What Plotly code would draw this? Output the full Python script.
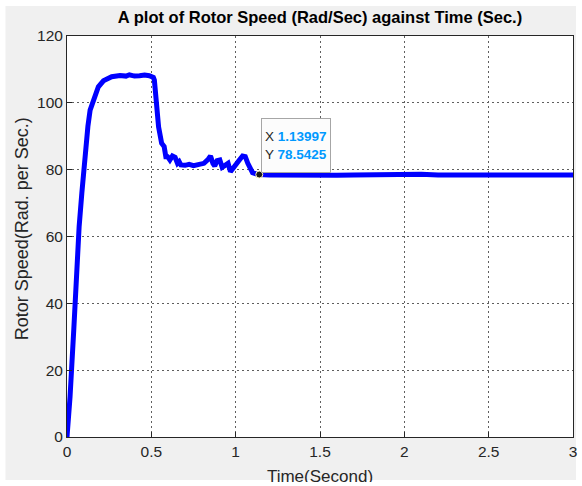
import plotly.graph_objects as go

# Rotor speed response (rad/s) over time (s)
time_s = [0.0, 0.018, 0.04, 0.057, 0.072, 0.088, 0.100, 0.112, 0.124, 0.137,
          0.151, 0.167, 0.186, 0.216, 0.265, 0.314, 0.35, 0.37, 0.40, 0.43,
          0.46, 0.488, 0.505, 0.512, 0.518, 0.528, 0.543, 0.561, 0.576, 0.586,
          0.596, 0.610, 0.625, 0.641, 0.655, 0.665, 0.675, 0.700, 0.724, 0.750,
          0.782, 0.812, 0.837, 0.851, 0.865, 0.876, 0.890, 0.906, 0.920, 0.935,
          0.955, 0.969, 0.988, 1.002, 1.022, 1.041, 1.057, 1.072, 1.086, 1.100,
          1.125, 1.13997, 1.2, 1.3, 1.4, 1.5, 1.6, 1.7, 1.8, 1.9,
          2.0, 2.1, 2.2, 2.3, 2.4, 2.5, 2.6, 2.7, 2.8, 2.9, 3.0]
speed = [0.0, 12.0, 32.0, 53.0, 63.0, 73.0, 80.0, 88.0, 93.0, 97.8,
         100.0, 102.8, 104.8, 106.6, 107.8, 108.2, 108.0, 108.4, 108.0, 108.1,
         108.3, 108.1, 108.0, 107.6, 106.8, 99.8, 92.8, 87.9, 86.9, 83.9,
         83.9, 82.9, 84.1, 83.7, 81.9, 82.4, 81.4, 81.3, 81.6, 81.2,
         81.4, 81.9, 83.1, 84.1, 81.9, 81.1, 82.7, 82.9, 80.7, 81.4,
         81.9, 79.4, 80.9, 81.9, 82.9, 84.1, 83.9, 81.9, 80.1, 79.1,
         78.7, 78.5425, 78.4, 78.3, 78.5, 78.4, 78.3, 78.4, 78.5, 78.3,
         78.4, 78.6, 78.4, 78.3, 78.5, 78.4, 78.4, 78.5, 78.3, 78.4, 78.4]

tip_x = 1.13997
tip_y = 78.5425

x_ticks = [0, 0.5, 1, 1.5, 2, 2.5, 3]
x_tick_text = ["0", "0.5", "1", "1.5", "2", "2.5", "3"]
y_ticks = [0, 20, 40, 60, 80, 100, 120]

W, H = 582, 486
L, R, T, B = 67, 5, 36, 49
PW, PH = W - L - R, H - T - B


def px_x(p):
    return (p - L) / PW


def px_y(p):
    return (H - B - p) / PH


FONT = "Liberation Sans, Arial, sans-serif"
AX = "#262626"
TIPBLUE = "#0099ff"

fig = go.Figure()
fig.add_trace(go.Scatter(
    x=time_s, y=speed, mode="lines",
    line=dict(color="#0000ff", width=5),
    hoverinfo="skip", showlegend=False,
))
fig.add_trace(go.Scatter(
    x=[tip_x], y=[tip_y], mode="markers",
    marker=dict(color="#1a1a1a", size=7, line=dict(color="#fff6c0", width=1)),
    hoverinfo="skip", showlegend=False,
))

axis_common = dict(
    showline=True, mirror=True, linecolor=AX, linewidth=1,
    ticks="inside", ticklen=5, tickcolor=AX, tickwidth=1,
    showgrid=True, gridcolor="#5e5e5e", gridwidth=1, griddash="2px,3px",
    zeroline=False,
    tickfont=dict(family=FONT, size=15.5, color=AX),
)

fig.update_layout(
    width=W, height=H,
    margin=dict(l=L, r=R, t=T, b=B),
    paper_bgcolor="white", plot_bgcolor="white",
    title=dict(
        text="<b>A plot of Rotor Speed (Rad/Sec) against Time (Sec.)</b>",
        x=px_x(322), xref="paper", xanchor="center",
        y=1 - 17 / H, yref="container", yanchor="middle",
        font=dict(family=FONT, size=16.5, color="black"),
    ),
    xaxis=dict(range=[0, 3], tickvals=x_ticks, ticktext=x_tick_text, **axis_common),
    yaxis=dict(range=[0, 120], tickvals=y_ticks, **axis_common),
    shapes=[
        # grey figure window
        dict(type="rect", xref="paper", yref="paper", layer="below",
             x0=px_x(5), x1=px_x(580), y0=px_y(480), y1=px_y(6),
             fillcolor="#f0f0f0", line=dict(width=0)),
        # white axes area
        dict(type="rect", xref="paper", yref="paper", layer="below",
             x0=0, x1=1, y0=0, y1=1,
             fillcolor="white", line=dict(width=0)),
    ],
    annotations=[
        # y-axis label
        dict(text="Rotor Speed(Rad. per Sec.)", textangle=-90,
             xref="paper", yref="paper", x=px_x(22), y=px_y(229),
             xanchor="center", yanchor="middle", showarrow=False,
             font=dict(family=FONT, size=18, color=AX)),
        # x-axis label, cut off by the figure edge
        dict(text="Time(Second)", xref="paper", yref="paper",
             x=0.5, y=px_y(465), xanchor="center", yanchor="top",
             width=130, height=15, valign="top", showarrow=False,
             font=dict(family=FONT, size=17, color=AX)),
        # data tip
        dict(text=("X <b><span style='color:%s'>1.13997</span></b><br>"
                   "Y <b><span style='color:%s'>78.5425</span></b>") % (TIPBLUE, TIPBLUE),
             xref="x", yref="y", x=tip_x, y=tip_y,
             xanchor="left", yanchor="bottom", xshift=2, yshift=2,
             align="left", valign="middle", showarrow=False,
             bgcolor="#fcfcfc", bordercolor="#a6a6a6", borderwidth=1, borderpad=3,
             width=62, height=47,
             font=dict(family=FONT, size=13.5, color=AX)),
    ],
)

fig.write_html("out.html")
